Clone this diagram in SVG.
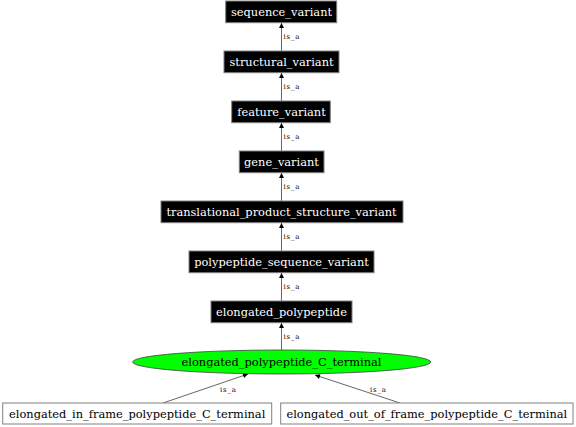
<svg xmlns="http://www.w3.org/2000/svg" width="576" height="427" viewBox="0 0 576 427">
<style>
.dark rect{fill:#000;stroke:#808080;stroke-width:1}
.dark text{fill:#fff}
.light rect{fill:#fff;stroke:#808080;stroke-width:1}
text{font-family:"DejaVu Serif","Liberation Serif",serif;font-size:11.4px;text-anchor:middle}
.lbl{font-size:7px;text-anchor:start;fill:#000}
.edge{stroke:#404040;stroke-width:0.8;fill:none}
</style>
<defs>
<marker id="arr" viewBox="0 0 10 10" refX="10" refY="5" markerWidth="6" markerHeight="5" markerUnits="userSpaceOnUse" orient="auto">
<path d="M0,0 L10,5 L0,10 z" fill="#000"/>
</marker>
</defs>
<rect width="576" height="427" fill="#fff"/>
<g id="edges">
<line class="edge" x1="281.5" y1="51" x2="281.5" y2="23" marker-end="url(#arr)"/>
<line class="edge" x1="281.5" y1="101" x2="281.5" y2="73" marker-end="url(#arr)"/>
<line class="edge" x1="281.5" y1="151" x2="281.5" y2="123" marker-end="url(#arr)"/>
<line class="edge" x1="281.5" y1="201" x2="281.5" y2="173" marker-end="url(#arr)"/>
<line class="edge" x1="281.5" y1="251" x2="281.5" y2="223" marker-end="url(#arr)"/>
<line class="edge" x1="281.5" y1="301" x2="281.5" y2="273" marker-end="url(#arr)"/>
<line class="edge" x1="281.5" y1="350" x2="281.5" y2="323" marker-end="url(#arr)"/>
<line class="edge" x1="163" y1="403" x2="248" y2="374" marker-end="url(#arr)"/>
<line class="edge" x1="400" y1="403" x2="315" y2="375" marker-end="url(#arr)"/>
<text class="lbl" x="283.5" y="39.3" textLength="16">is_a</text>
<text class="lbl" x="283.5" y="89.3" textLength="16">is_a</text>
<text class="lbl" x="283.5" y="139.3" textLength="16">is_a</text>
<text class="lbl" x="283.5" y="189.3" textLength="16">is_a</text>
<text class="lbl" x="283.5" y="239.3" textLength="16">is_a</text>
<text class="lbl" x="283.5" y="289.3" textLength="16">is_a</text>
<text class="lbl" x="283.5" y="339.3" textLength="16">is_a</text>
<text class="lbl" x="220" y="391.5" textLength="16">is_a</text>
<text class="lbl" x="370" y="391.5" textLength="16">is_a</text>
</g>
<g id="sequence_variant" class="dark"><rect x="225.7" y="1" width="111" height="21.7"/><text x="281.5" y="16">sequence_variant</text></g>
<g id="structural_variant" class="dark"><rect x="224" y="51" width="115" height="21.7"/><text x="281.5" y="66">structural_variant</text></g>
<g id="feature_variant" class="dark"><rect x="231.7" y="101" width="98.6" height="21.7"/><text x="281.5" y="116">feature_variant</text></g>
<g id="gene_variant" class="dark"><rect x="239.3" y="151" width="84.7" height="21.7"/><text x="281.5" y="166">gene_variant</text></g>
<g id="translational_product_structure_variant" class="dark"><rect x="161" y="201" width="242" height="21.7"/><text x="281.5" y="216">translational_product_structure_variant</text></g>
<g id="polypeptide_sequence_variant" class="dark"><rect x="189" y="251" width="185" height="21.7"/><text x="281.5" y="266">polypeptide_sequence_variant</text></g>
<g id="elongated_polypeptide" class="dark"><rect x="211" y="301" width="141" height="21.7"/><text x="281.5" y="316">elongated_polypeptide</text></g>
<g id="elongated_polypeptide_C_terminal"><ellipse cx="281.7" cy="362" rx="149" ry="12" fill="#00ff00" stroke="#404040" stroke-width="0.8"/><text x="281.5" y="366">elongated_polypeptide_C_terminal</text></g>
<g id="elongated_in_frame_polypeptide_C_terminal" class="light"><rect x="2.7" y="403" width="269" height="21"/><text x="137.2" y="417.5">elongated_in_frame_polypeptide_C_terminal</text></g>
<g id="elongated_out_of_frame_polypeptide_C_terminal" class="light"><rect x="280.7" y="403" width="292.3" height="21"/><text x="426.8" y="417.5">elongated_out_of_frame_polypeptide_C_terminal</text></g>
</svg>
